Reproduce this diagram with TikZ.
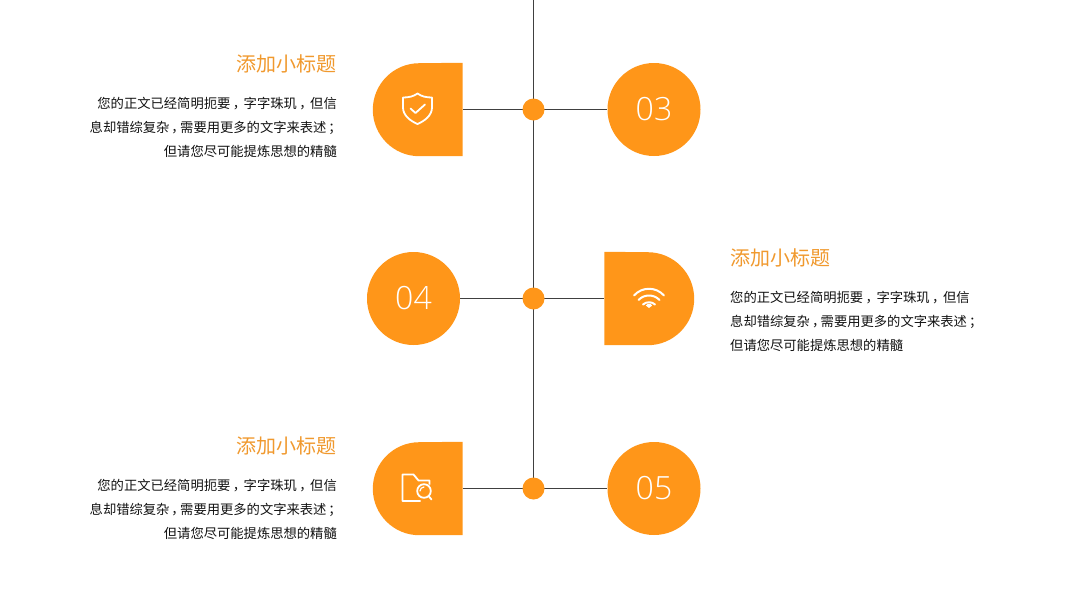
\documentclass[tikz,border=0pt]{standalone}
\usepackage{fontspec}
\setmainfont{Noto Sans CJK SC}
\newfontfamily\numfont[UprightFont=* Light]{Open Sans}
\usetikzlibrary{backgrounds}
\definecolor{accent}{HTML}{FF9619}
\definecolor{linegray}{HTML}{404040}
\definecolor{titlec}{HTML}{F0992E}
\definecolor{bodyc}{HTML}{111111}
\newcommand{\fullcomma}{\kern2.5pt ，\kern-2.5pt\relax}
\newcommand{\tightcomma}{\kern2pt ，\kern-4.6pt\relax}
\newcommand{\tightsemi}{\kern2pt ；\kern-5pt\relax}
\newcommand{\bodylines}{您的正文已经简明扼要\fullcomma 字字珠玑\fullcomma 但信\\息却错综复杂\tightcomma 需要用更多的文字来表述\tightsemi\\但请您尽可能提炼思想的精髓}
\tikzset{
  x=1pt,y=-1pt,
  numcirc/.style={circle,fill=accent,inner sep=0pt,minimum size=93pt,text=white,font=\numfont\fontsize{32}{32}\selectfont},
  dotnode/.style={circle,fill=accent,inner sep=0pt,minimum size=22pt},
  halfbox/.style={inner sep=0pt,minimum width=89.5pt,minimum height=93pt},
  conn/.style={draw=linegray,line width=1.1pt},
  icon/.style={draw=white,line width=1.8pt,line join=round,line cap=round},
  titletext/.style={inner sep=0pt,text=titlec,font=\fontsize{20}{24}\selectfont},
  bodytext/.style={inner sep=0pt,text=bodyc,font=\fontsize{13.3}{23.6}\selectfont},
}
\begin{document}
\begin{tikzpicture}
\useasboundingbox (0,0) rectangle (1067,600);
\coordinate (top) at (533.5,0);
\node[dotnode] (d3) at (533.5,109.5) {};
\node[dotnode] (d4) at (533.5,298.5) {};
\node[dotnode] (d5) at (533.5,488.5) {};
\node[numcirc] (c3) at (654,109.5) {03};
\node[numcirc] (c4) at (413.5,298.5) {04};
\node[numcirc] (c5) at (654,488.5) {05};
\node[halfbox] (s3) at (417.75,109.5) {};
\node[halfbox] (s4) at (649.25,298.5) {};
\node[halfbox] (s5) at (417.75,488.5) {};
\fill[accent] (s3.north east) -- (s3.south east) -- ([xshift=46.5pt]s3.south west) arc[start angle=270,end angle=90,radius=46.5pt] -- cycle;
\fill[accent] (s5.north east) -- (s5.south east) -- ([xshift=46.5pt]s5.south west) arc[start angle=270,end angle=90,radius=46.5pt] -- cycle;
\fill[accent] (s4.north west) -- (s4.south west) -- ([xshift=-46.5pt]s4.south east) arc[start angle=-90,end angle=90,radius=46.5pt] -- cycle;
\begin{scope}[on background layer]
\draw[conn] (top) -- (d5.center);
\draw[conn] (s3.east) -- (d3.center) -- (c3.west);
\draw[conn] (c4.east) -- (d4.center) -- (s4.west);
\draw[conn] (s5.east) -- (d5.center) -- (c5.west);
\end{scope}
% shield icon
\begin{scope}[shift={(417.5,108.5)}]
\draw[icon] (0,-15) .. controls (4,-12) and (9,-11) .. (14.5,-11) -- (14.5,-1) .. controls (14.5,7) and (7,12.5) .. (0,15.5) .. controls (-7,12.5) and (-14.5,7) .. (-14.5,-1) -- (-14.5,-11) .. controls (-9,-11) and (-4,-12) .. (0,-15) -- cycle;
\draw[icon] (-7,0) -- (-2,4.5) -- (7.5,-4);
\end{scope}
% wifi icon
\begin{scope}[shift={(649,306)}]
\draw[icon,line width=2pt] (-15,-10.5) .. controls (-7,-19.5) and (7,-19.5) .. (15,-10.5);
\draw[icon,line width=2pt] (-10.5,-6) .. controls (-5,-12) and (5,-12) .. (10.5,-6);
\draw[icon,line width=2pt] (-6,-1.5) .. controls (-3,-4.5) and (3,-4.5) .. (6,-1.5);
\fill[white] (0,2) -- (-3.2,-0.5) arc[start angle=150,end angle=30,radius=3.7pt] -- cycle;
\end{scope}
% folder icon
\begin{scope}[shift={(402.5,474.5)}]
\draw[icon,line cap=butt] (18,26.5) -- (0,26.5) -- (0,0) -- (11,0) -- (16,6) -- (27,6) -- (27,10);
\draw[icon] (21.5,16.5) circle[radius=6.8pt];
\draw[icon,line width=1.2pt] (17.5,16.5) arc[start angle=180,end angle=90,radius=4pt];
\draw[icon] (26.5,22) -- (29,25);
\end{scope}
\node[titletext,anchor=east] (t3) at (337,64) {添加小标题};
\node[bodytext,anchor=north east,align=right] (b3) at (337,97.5) {\bodylines};
\node[titletext,anchor=west] (t4) at (730,257.5) {添加小标题};
\node[bodytext,anchor=north west,align=left] (b4) at (730,291.5) {\bodylines};
\node[titletext,anchor=east] (t5) at (337,446) {添加小标题};
\node[bodytext,anchor=north east,align=right] (b5) at (337,479.5) {\bodylines};
\end{tikzpicture}
\end{document}
